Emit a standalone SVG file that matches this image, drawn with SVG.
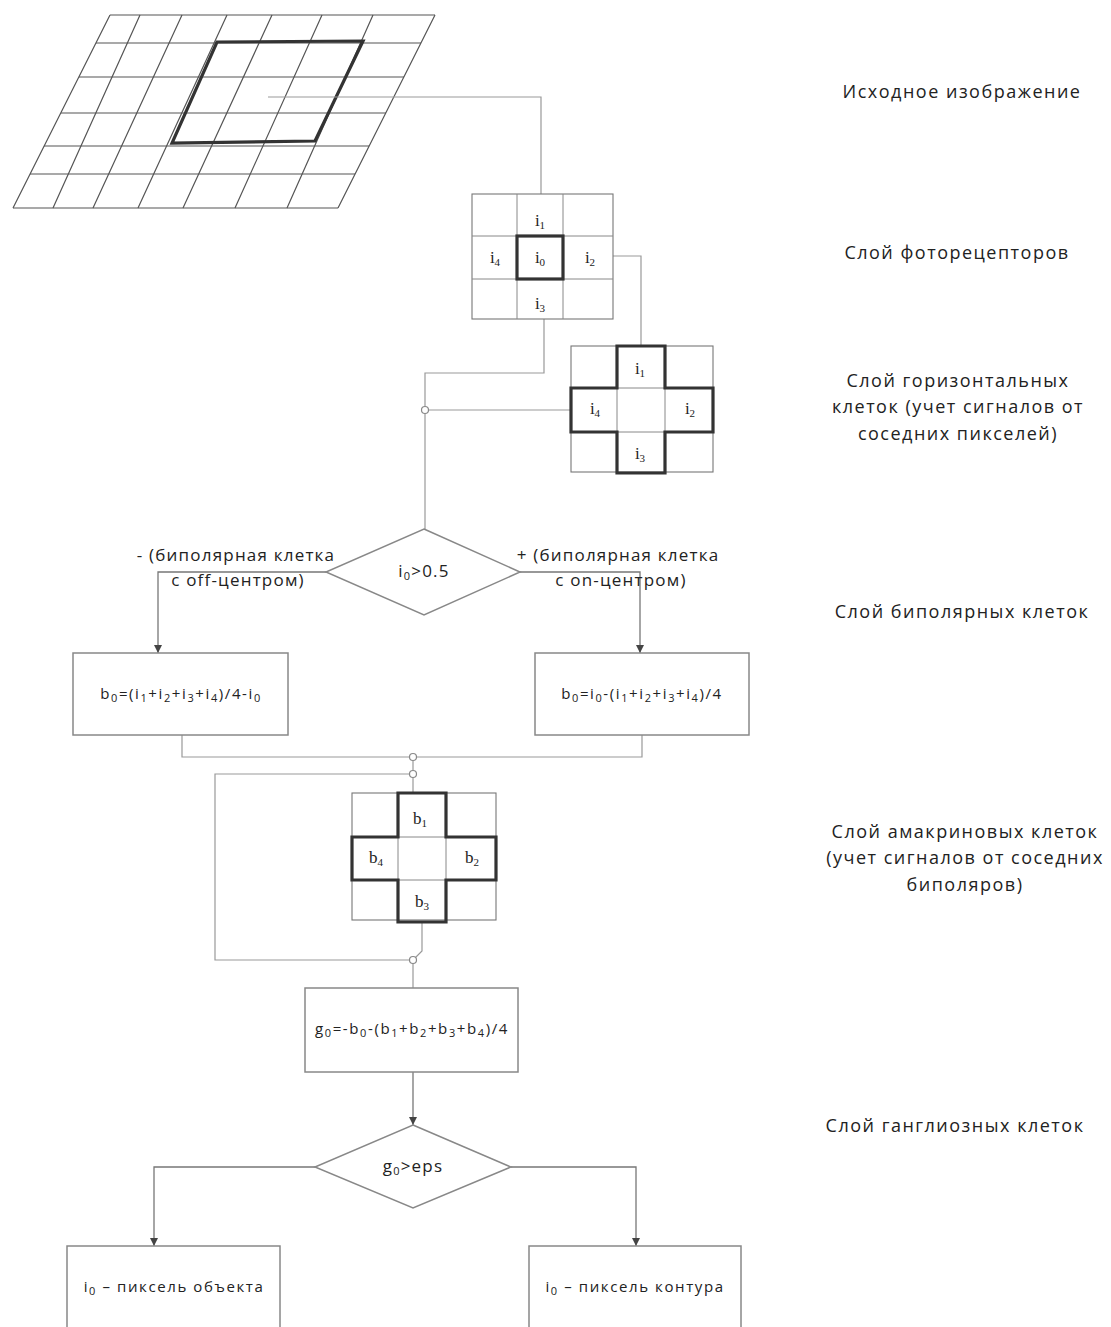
<svg xmlns="http://www.w3.org/2000/svg" width="1111" height="1327" viewBox="0 0 1111 1327">
<defs>
<style>
.bg{fill:#fff}
.grid{stroke:#555;stroke-width:1.2;fill:none}
.thick{stroke:#333;stroke-width:3.2;fill:none;stroke-linejoin:miter}
.cell{stroke:#777;stroke-width:1.1;fill:#fff}
.cellline{stroke:#888;stroke-width:1;fill:none}
.conn{stroke:#999;stroke-width:1.2;fill:none}
.flow{stroke:#777;stroke-width:1.3;fill:none}
.box{stroke:#888;stroke-width:1.5;fill:#fff}
.dot{stroke:#888;stroke-width:1.2;fill:#fff}
.lbl{font-family:"Open Sans","Liberation Sans",sans-serif;font-size:18px;letter-spacing:1.5px;fill:#222;text-anchor:middle}
.br{font-family:"Open Sans","Liberation Sans",sans-serif;font-size:17px;letter-spacing:1.2px;fill:#222;text-anchor:middle}
.f{font-family:"Open Sans","Liberation Sans",sans-serif;font-size:15px;letter-spacing:1.6px;fill:#222;text-anchor:middle}
.c{font-family:"Liberation Serif","DejaVu Serif",serif;font-size:17px;fill:#222;text-anchor:middle}
.s{font-size:11px;baseline-shift:-3px}
</style>
<marker id="ad" markerWidth="10" markerHeight="10" refX="5" refY="9" markerUnits="userSpaceOnUse" viewBox="0 0 10 10">
<path d="M1,1 L9,1 L5,9 Z" fill="#444"/>
</marker>
</defs>
<rect class="bg" x="0" y="0" width="1111" height="1327"/>

<g id="source-image">
<path class="grid" d="M110,15 L13,208 M140,15 L53,208 M182,15 L93,208 M227,15 L138,208 M272,15 L183,208 M322,15 L235,208 M373,15 L287,208 M435,15 L338,208"/>
<path class="grid" d="M110,15 H435 M96,43 H421 M79,77 H404 M61,113 H386 M44,146 H369 M30,174 H355 M13,208 H338"/>
<polygon class="thick" points="217,42 363,41 315,141 172,143"/>
</g>

<g id="connectors">
<polyline class="conn" points="268,97 541,97 541,194"/>
<polyline class="conn" points="613,256 641,256 641,346"/>
<polyline class="conn" points="544,319 544,373 425,373 425,406.5"/>
<line class="conn" x1="428.5" y1="410" x2="571" y2="410"/>
<line class="conn" x1="425" y1="413.5" x2="425" y2="529"/>
<polyline class="flow" points="326,572 158,572 158,653" marker-end="url(#ad)"/>
<polyline class="flow" points="520,572 640,572 640,653" marker-end="url(#ad)"/>
<polyline class="conn" points="182,735 182,757 409.5,757"/>
<polyline class="conn" points="416.5,757 642,757 642,735"/>
<line class="conn" x1="413" y1="760.5" x2="413" y2="770.5"/>
<polyline class="conn" points="409.5,774 215,774 215,960 409.5,960"/>
<line class="conn" x1="413" y1="777.5" x2="413" y2="793"/>
<polyline class="conn" points="422,922 422,951 415.5,957.5"/>
<line class="conn" x1="413" y1="963.5" x2="413" y2="988"/>
<line class="flow" x1="413" y1="1072" x2="413" y2="1125" marker-end="url(#ad)"/>
<polyline class="flow" points="315,1167 154,1167 154,1246" marker-end="url(#ad)"/>
<polyline class="flow" points="511,1167 636,1167 636,1246" marker-end="url(#ad)"/>
<circle class="dot" cx="425" cy="410" r="3.5"/>
<circle class="dot" cx="413" cy="757" r="3.5"/>
<circle class="dot" cx="413" cy="774" r="3.5"/>
<circle class="dot" cx="413" cy="960" r="3.5"/>
</g>

<g id="photoreceptors">
<rect class="cell" x="472" y="194" width="141" height="125"/>
<path class="cellline" d="M517,194 V319 M563,194 V319 M472,236 H613 M472,279 H613"/>
<rect class="thick" x="517" y="236" width="46" height="43"/>
<text class="c" x="540" y="226">i<tspan class="s">1</tspan></text>
<text class="c" x="495" y="263">i<tspan class="s">4</tspan></text>
<text class="c" x="540" y="263">i<tspan class="s">0</tspan></text>
<text class="c" x="590" y="263">i<tspan class="s">2</tspan></text>
<text class="c" x="540" y="309">i<tspan class="s">3</tspan></text>
</g>

<g id="horizontal-cells">
<rect class="cell" x="571" y="346" width="142" height="126"/>
<path class="cellline" d="M617,346 V472 M665,346 V472 M571,388 H713 M571,432 H713"/>
<path class="thick" d="M617,346 H665 V388 H713 V432 H665 V473 H617 V432 H571 V388 H617 Z"/>
<text class="c" x="640" y="374">i<tspan class="s">1</tspan></text>
<text class="c" x="595" y="414">i<tspan class="s">4</tspan></text>
<text class="c" x="690" y="414">i<tspan class="s">2</tspan></text>
<text class="c" x="640" y="459">i<tspan class="s">3</tspan></text>
</g>

<g id="decision-bipolar">
<polygon class="box" points="424,529 520,572 424,615 326,572"/>
<text class="br" x="424" y="577">i<tspan class="s">0</tspan>&gt;0.5</text>
</g>
<g id="label-off">
<text class="br" x="236" y="561">- (биполярная клетка</text>
<text class="br" x="238" y="586">с off-центром)</text>
</g>
<g id="label-on">
<text class="br" x="618" y="561">+ (биполярная клетка</text>
<text class="br" x="621" y="586">с on-центром)</text>
</g>

<g id="bipolar-off">
<rect class="box" x="73" y="653" width="215" height="82"/>
<text class="f" x="181" y="699">b<tspan class="s">0</tspan>=(i<tspan class="s">1</tspan>+i<tspan class="s">2</tspan>+i<tspan class="s">3</tspan>+i<tspan class="s">4</tspan>)/4-i<tspan class="s">0</tspan></text>
</g>
<g id="bipolar-on">
<rect class="box" x="535" y="653" width="214" height="82"/>
<text class="f" x="642" y="699">b<tspan class="s">0</tspan>=i<tspan class="s">0</tspan>-(i<tspan class="s">1</tspan>+i<tspan class="s">2</tspan>+i<tspan class="s">3</tspan>+i<tspan class="s">4</tspan>)/4</text>
</g>

<g id="amacrine-cells">
<rect class="cell" x="352" y="793" width="144" height="127"/>
<path class="cellline" d="M398,793 V920 M446,793 V920 M352,837 H496 M352,880 H496"/>
<path class="thick" d="M398,793 H446 V837 H496 V880 H446 V922 H398 V880 H352 V837 H398 Z"/>
<text class="c" x="420" y="824">b<tspan class="s">1</tspan></text>
<text class="c" x="376" y="863">b<tspan class="s">4</tspan></text>
<text class="c" x="472" y="863">b<tspan class="s">2</tspan></text>
<text class="c" x="422" y="907">b<tspan class="s">3</tspan></text>
</g>

<g id="ganglion-formula">
<rect class="box" x="305" y="988" width="213" height="84"/>
<text class="f" x="412" y="1034">g<tspan class="s">0</tspan>=-b<tspan class="s">0</tspan>-(b<tspan class="s">1</tspan>+b<tspan class="s">2</tspan>+b<tspan class="s">3</tspan>+b<tspan class="s">4</tspan>)/4</text>
</g>

<g id="decision-ganglion">
<polygon class="box" points="413,1125 511,1167 413,1208 315,1167"/>
<text class="br" x="413" y="1172">g<tspan class="s">0</tspan>&gt;eps</text>
</g>

<g id="result-object">
<rect class="box" x="67" y="1246" width="213" height="100"/>
<text class="f" x="174" y="1292">i<tspan class="s">0</tspan> – пиксель объекта</text>
</g>
<g id="result-contour">
<rect class="box" x="529" y="1246" width="212" height="100"/>
<text class="f" x="635" y="1292">i<tspan class="s">0</tspan> – пиксель контура</text>
</g>

<g id="layer-labels">
<text class="lbl" x="962" y="98">Исходное изображение</text>
<text class="lbl" x="957" y="259">Слой фоторецепторов</text>
<text class="lbl" x="958" y="387">Слой горизонтальных</text>
<text class="lbl" x="958" y="413">клеток (учет сигналов от</text>
<text class="lbl" x="958" y="440">соседних пикселей)</text>
<text class="lbl" x="962" y="618">Слой биполярных клеток</text>
<text class="lbl" x="965" y="838">Слой амакриновых клеток</text>
<text class="lbl" x="965" y="864">(учет сигналов от соседних</text>
<text class="lbl" x="965" y="891">биполяров)</text>
<text class="lbl" x="955" y="1132">Слой ганглиозных клеток</text>
</g>
</svg>
